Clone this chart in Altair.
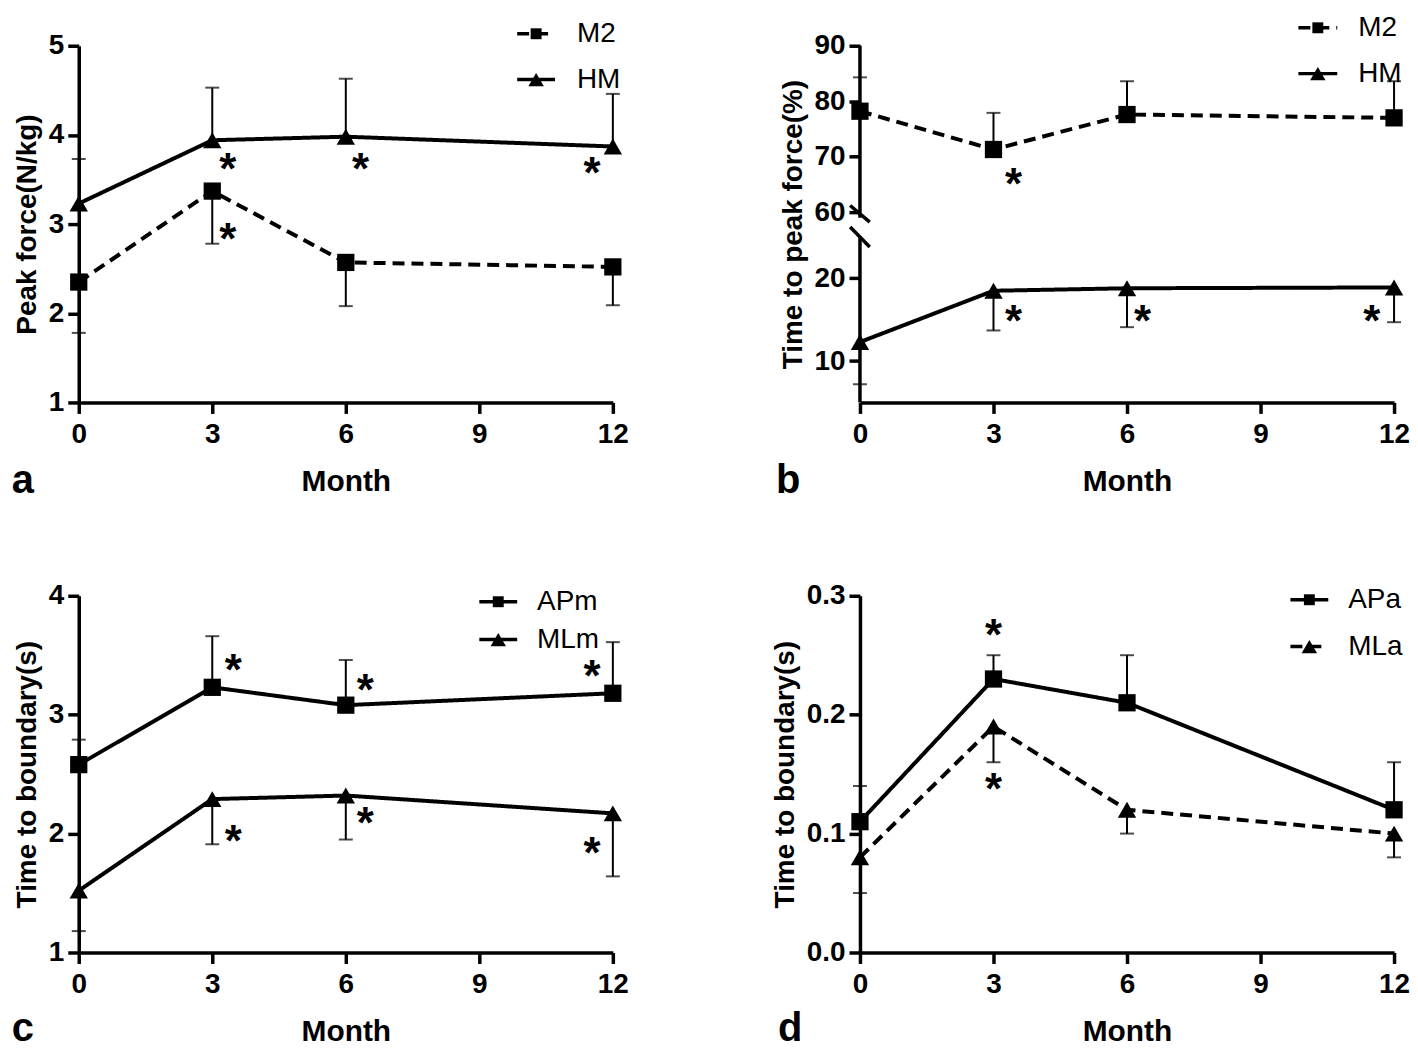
import altair as alt
import pandas as pd

MONTHS = [0, 3, 6, 12]
X_TICKS = [0, 3, 6, 9, 12]

# ---------------- Panel a : Peak force ----------------
A_NAMES = ["M2", "HM"]
A_M2 = [2.35, 3.37, 2.57, 2.52]
A_M2_ERR = [1.78, 2.78, 2.08, 2.09]
A_HM = [3.23, 3.94, 3.98, 3.87]
A_HM_ERR = [3.73, 4.53, 4.63, 4.46]
A_STAR_X = [3.35, 6.33, 11.53, 3.35]
A_STAR_Y = [3.67, 3.67, 3.63, 2.89]
A_YTICKS = [1, 2, 3, 4, 5]

# ---------------- Panel b : Time to peak force ----------------
B_NAMES = ["M2", "HM"]
B_M2 = [78.2, 71.3, 77.6, 77.0]
B_M2_ERR = [84.3, 77.9, 83.6, 83.6]
B_HM = [12.3, 18.5, 18.8, 18.9]
B_HM_ERR = [7.2, 13.7, 14.1, 14.7]
B_STAR_X = [3.45, 3.45, 6.35, 11.5]
B_STAR_Y = [65.9, 15.5, 15.5, 15.5]
B_YTICKS = [10, 20, 60, 70, 80, 90]
B_BREAK_DOMAIN = [5, 25, 59, 90]

# ---------------- Panel c : Time to boundary (m) ----------------
C_NAMES = ["APm", "MLm"]
C_APM = [2.58, 3.23, 3.08, 3.18]
C_APM_ERR = [2.79, 3.66, 3.46, 3.61]
C_MLM = [1.52, 2.29, 2.32, 2.17]
C_MLM_ERR = [1.18, 1.91, 1.95, 1.64]
C_STAR_X = [3.47, 6.44, 11.53, 3.47, 6.44, 11.53]
C_STAR_Y = [3.42, 3.25, 3.37, 1.98, 2.13, 1.88]
C_YTICKS = [1, 2, 3, 4]

# ---------------- Panel d : Time to boundary (a) ----------------
D_NAMES = ["APa", "MLa"]
D_APA = [0.11, 0.23, 0.21, 0.12]
D_APA_ERR = [0.14, 0.25, 0.25, 0.16]
D_MLA = [0.08, 0.19, 0.12, 0.10]
D_MLA_ERR = [0.05, 0.16, 0.10, 0.08]
D_STAR_X = [3, 3]
D_STAR_Y = [0.271, 0.142]
D_YTICKS = [0.0, 0.1, 0.2, 0.3]

FONT = "Liberation Sans"
W, H = 536, 358
DASH = [12, 7]
SOLID = [1, 0]
STAR_SIZE = 44


def series_df(values, errs):
    return pd.DataFrame({"month": MONTHS, "value": values, "err": errs})


def legend_entry(name, dash, shape, msize, lx0, lx1, ly, tx):
    d = pd.DataFrame({"label": [name]})
    base = alt.Chart(d)
    line = base.mark_rule(color="black", strokeWidth=3.5, strokeDash=dash).encode(
        x=alt.value(lx0), x2=alt.value(lx1), y=alt.value(ly))
    pt = base.mark_point(filled=True, opacity=1, color="black", shape=shape,
                         size=msize, strokeWidth=0).encode(
        x=alt.value((lx0 + lx1) / 2), y=alt.value(ly))
    txt = base.mark_text(align="left", baseline="middle", font=FONT, fontSize=28,
                         color="black").encode(
        x=alt.value(tx), y=alt.value(ly), text="label:N")
    return [line, pt, txt]


def panel(names, values, errs, shapes, dashes, yscale, yticks, yfmt, ytitle,
          stars_x, stars_y, legend_pos, letter, letter_pos, extra=None,
          ydomain=True):
    xaxis = alt.Axis(values=X_TICKS, title="Month", labelFlush=False)
    yaxis = alt.Axis(values=yticks, format=yfmt, title=ytitle, domain=ydomain)
    xscale = alt.Scale(domain=[0, 12], nice=False, zero=False)

    def X(field):
        return alt.X(field, type="quantitative", scale=xscale, axis=xaxis)

    def Y(field):
        return alt.Y(field, type="quantitative", scale=yscale, axis=yaxis)

    err_layers, line_layers, point_layers = [], [], []
    for vals, es, shape, dash in zip(values, errs, shapes, dashes):
        base = alt.Chart(series_df(vals, es))
        err_layers.append(base.mark_rule(color="black", strokeWidth=2).encode(
            x=X("month"), y=Y("value"), y2="err:Q"))
        err_layers.append(base.mark_tick(color="black", orient="horizontal", size=14,
                                         thickness=2).encode(x=X("month"), y=Y("err")))
        line_layers.append(base.mark_line(color="black", strokeWidth=4,
                                          strokeDash=dash).encode(
            x=X("month"), y=Y("value")))
        msz = 300 if shape == "square" else 340
        point_layers.append(base.mark_point(filled=True, opacity=1, color="black",
                                            strokeWidth=0, shape=shape, size=msz).encode(
            x=X("month"), y=Y("value")))
    layers = err_layers + line_layers + point_layers
    sdf = pd.DataFrame({"month": stars_x, "value": stars_y})
    layers.append(alt.Chart(sdf).mark_text(text="*", font=FONT, fontSize=STAR_SIZE,
                                            fontWeight="bold", dy=7, color="black").encode(
        x=X("month"), y=Y("value")))
    if extra:
        for e in extra:
            layers.append(e(X, Y))
    (lx0, lx1, ly1, ly2, tx) = legend_pos
    for name, dash, shape, ly in zip(names, dashes, shapes, [ly1, ly2]):
        msz = 120 if shape == "square" else 240
        layers += legend_entry(name, dash, shape, msz, lx0, lx1, ly, tx)
    ldf = pd.DataFrame({"t": [letter]})
    layers.append(alt.Chart(ldf).mark_text(font=FONT, fontSize=40, fontWeight="bold",
                                           align="center", baseline="middle",
                                           color="black").encode(
        x=alt.value(letter_pos[0]), y=alt.value(letter_pos[1]), text="t:N"))
    return alt.layer(*layers).properties(width=W, height=H)


# panel a
pa = panel(A_NAMES, [A_M2, A_HM], [A_M2_ERR, A_HM_ERR], ["square", "triangle-up"],
           [DASH, SOLID], alt.Scale(domain=[1, 5], nice=False, zero=False), A_YTICKS, "d",
           "Peak force(N/kg)", A_STAR_X, A_STAR_Y,
           (440, 478, -12, 34, 500), "a", (-56, H + 79))

# panel b with broken axis (piecewise linear scale)
b_range = [H * f for f in [1.0, 193 / 360, 173.6 / 360, 0.0]]
b_scale = alt.Scale(domain=B_BREAK_DOMAIN, range=b_range, nice=False, zero=False)
B_AXIS_Y0 = [59, 5]
B_AXIS_Y1 = [90, 25]
B_SLASH = {"x0": [-0.22, -0.22], "x1": [0.22, 0.22], "y0": [61.2, 42.5], "y1": [51.3, 23.8]}


def b_axis_line(X, Y):
    d = pd.DataFrame({"a0": B_AXIS_Y0, "a1": B_AXIS_Y1})
    return alt.Chart(d).mark_rule(color="black", strokeWidth=3.5).encode(
        x=alt.value(0), y=Y("a0"), y2="a1:Q")


def b_slashes(X, Y):
    d = pd.DataFrame(B_SLASH)
    return alt.Chart(d).mark_rule(color="black", strokeWidth=3.5).encode(
        x=X("x0"), x2="x1:Q", y=Y("y0"), y2="y1:Q")


pb = panel(B_NAMES, [B_M2, B_HM], [B_M2_ERR, B_HM_ERR], ["square", "triangle-up"],
           [DASH, SOLID], b_scale, B_YTICKS, "d", "Time to peak force(%)",
           B_STAR_X, B_STAR_Y, (440, 479, -18, 28, 500), "b", (-72, H + 79),
           extra=[b_axis_line, b_slashes], ydomain=False)

pc = panel(C_NAMES, [C_APM, C_MLM], [C_APM_ERR, C_MLM_ERR], ["square", "triangle-up"],
           [SOLID, SOLID], alt.Scale(domain=[1, 4], nice=False, zero=False), C_YTICKS, "d",
           "Time to boundary(s)", C_STAR_X, C_STAR_Y,
           (402, 440, 6, 44, 460), "c", (-56, H + 77))

pd_ = panel(D_NAMES, [D_APA, D_MLA], [D_APA_ERR, D_MLA_ERR], ["square", "triangle-up"],
            [SOLID, DASH], alt.Scale(domain=[0, 0.3], nice=False, zero=False), D_YTICKS, ".1f",
            "Time to boundary(s)", D_STAR_X, D_STAR_Y,
            (432, 470, 4, 51, 490), "d", (-70, H + 77))

chart = alt.concat(pa, pb, pc, pd_, columns=2, spacing={"row": 194, "column": 248},
                   bounds="flush").properties(
    padding={"left": 3, "top": 4, "right": 0, "bottom": 0}, background="white")

chart = chart.configure_view(stroke=None).configure_axis(
    domainColor="black", domainWidth=3.5, tickColor="black", tickWidth=3.5, tickSize=11,
    labelFont=FONT, labelFontSize=28, labelFontWeight="bold", labelColor="black",
    titleFont=FONT, titleFontSize=30, titleFontWeight="bold", titleColor="black",
    grid=False, labelPadding=7, titlePadding=18, labelOverlap=False,
).configure_axisY(titleFontSize=28, titlePadding=7, labelPadding=4)

chart.save("out.html", embed_options={"renderer": "svg", "actions": False})
